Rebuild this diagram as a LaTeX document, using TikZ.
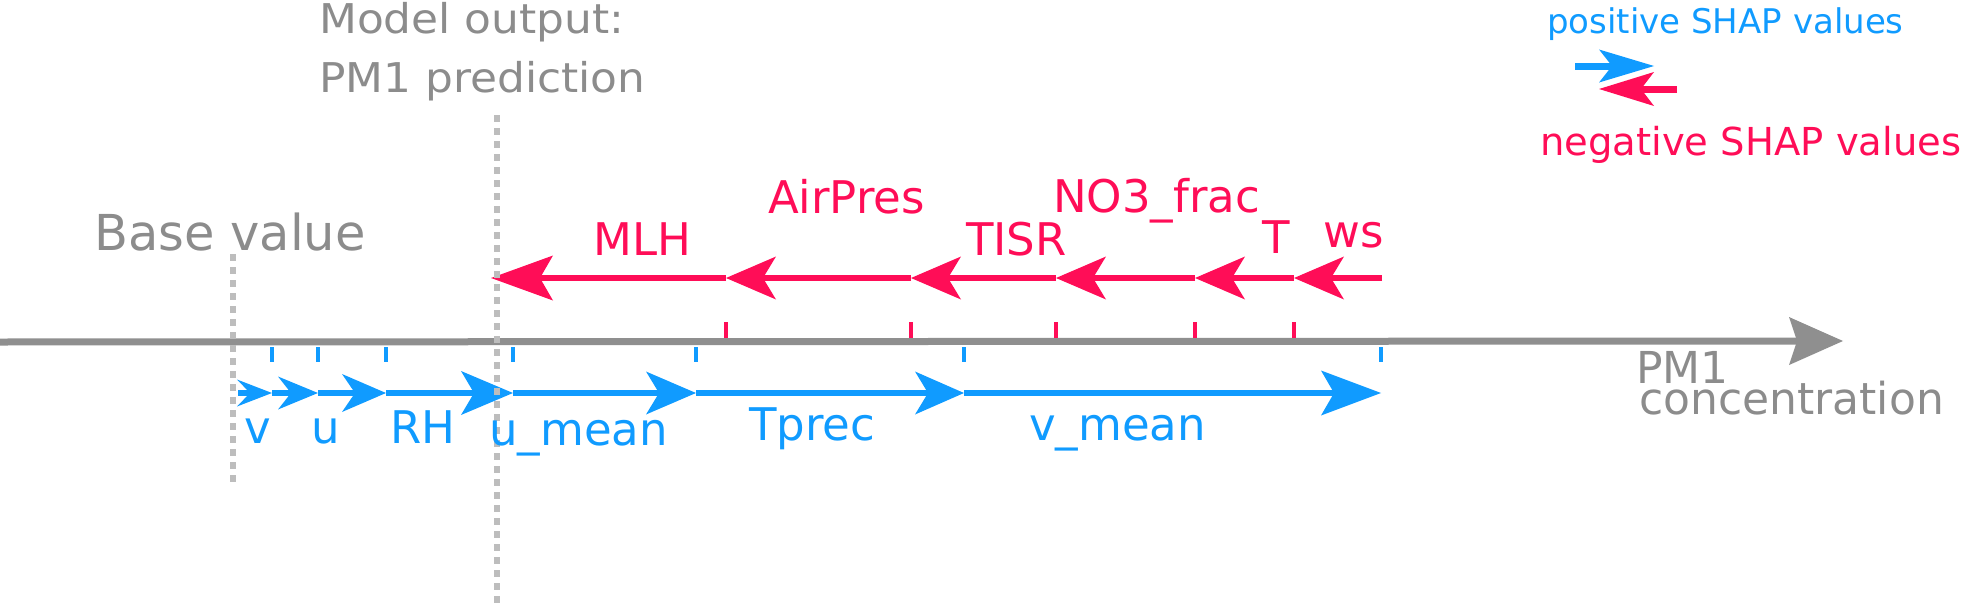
\documentclass[tikz,border=0pt]{standalone}
\usepackage{fontspec}
\setmainfont{DejaVu Sans}
\newfontfamily\widefont[FakeStretch=1.07]{DejaVu Sans}
\usetikzlibrary{arrows.meta}

\definecolor{shapblue}{RGB}{16,155,255}
\definecolor{shapred}{RGB}{255,13,87}
\definecolor{axisgray}{RGB}{143,143,143}
\definecolor{textgray}{RGB}{140,140,140}
\definecolor{dotgray}{RGB}{189,189,189}

\tikzset{
    lab/.style={inner sep=0pt, anchor=base west, font=\fontsize{45}{45}\selectfont},
    poslab/.style={lab, text=shapblue},
    neglab/.style={lab, text=shapred},
    greylab/.style={lab, text=textgray},
    posline/.style={draw=shapblue, line width=6pt},
    negline/.style={draw=shapred, line width=6.5pt},
    tickmark/.style={line width=4pt},
    dotline/.style={draw=dotgray, line width=6.5pt, dash pattern=on 6.5pt off 6.5pt},
}

\begin{document}
\begin{tikzpicture}[x=1pt, y=-1pt]
        \useasboundingbox (0,0) rectangle (1973,605);

        % axis
        \coordinate (axstart) at (0,342);
        \coordinate (axend) at (1843,341);
        \draw[draw=axisgray, line width=7pt, -{Stealth[length=54pt, width=48pt, inset=8pt, line width=0pt]}] (axstart) -- (axend);

        \foreach \x in {272,318,386,513,696,964,1381}
            \draw[shapblue, tickmark] (\x,347) -- (\x,362);
        \foreach \x in {726,911,1056,1195,1294}
            \draw[shapred, tickmark] (\x,322) -- (\x,338);

        % positive contributions
        \foreach \n/\x in {0/238,1/272,2/318,3/386,4/513,5/696,6/964,7/1381}
            \coordinate (p\n) at (\x,393);
        \foreach \a/\b/\len/\wid in {0/1/35/27, 1/2/40/33, 2/3/44/38, 3/4/52/44, 4/5/50/43, 5/6/49/43, 6/7/60/45}
            \draw[posline, -{Stealth[length=\len pt, width=\wid pt, inset=13pt, line width=0pt]}] (p\a) -- (p\b);

        % negative contributions
        \foreach \n/\x in {0/1382,1/1294,2/1195,3/1056,4/911,5/726,6/491}
            \coordinate (n\n) at (\x,278);
        \foreach \a/\b/\len/\wid in {0/1/50/43, 1/2/50/43, 2/3/50/43, 3/4/50/43, 4/5/50/43, 5/6/62/45}
            \draw[negline, -{Stealth[length=\len pt, width=\wid pt, inset=13pt, line width=0pt]}] (n\a) -- (n\b);

        % base value and model output
        \coordinate (basetop) at (233,254);
        \coordinate (basebot) at (233,486);
        \coordinate (outtop) at (497,115);
        \coordinate (outbot) at (497,605);
        \draw[dotline] (basetop) -- (basebot);
        \draw[dotline] (outtop) -- (outbot);

        \node[greylab, font=\fontsize{49.5}{49.5}\selectfont] (base) at (94,250) {Base value};
        \node[greylab, font=\widefont\fontsize{41}{41}\selectfont] (output) at (319,33) {Model output:};
        \node[greylab, font=\widefont\fontsize{41}{41}\selectfont] (prediction) at (319,92) {PM1 prediction};
        \node[greylab, font=\fontsize{44}{44}\selectfont] (pm) at (1636,383) {PM1};
        \node[greylab, font=\fontsize{44}{44}\selectfont] (conc) at (1639,414) {concentration};

        % feature names
        \node[poslab] (v) at (244,443) {v};
        \node[poslab] (u) at (311,443) {u};
        \node[poslab] (rh) at (390,443) {RH};
        \node[poslab] (umean) at (489,445) {u\_mean};
        \node[poslab] (tprec) at (749,440) {Tprec};
        \node[poslab] (vmean) at (1029,440) {v\_mean};

        \node[neglab] (mlh) at (593,255) {MLH};
        \node[neglab] (airpres) at (768,213) {AirPres};
        \node[neglab] (tisr) at (966,255) {TISR};
        \node[neglab] (no3) at (1053,212) {NO3\_frac};
        \node[neglab] (t) at (1262,253) {T};
        \node[neglab] (ws) at (1323,247) {ws};

        % legend
        \coordinate (pl0) at (1575,66);
        \coordinate (pl1) at (1654,66);
        \coordinate (nl0) at (1677,89);
        \coordinate (nl1) at (1599,89);
        \draw[posline, line width=7pt, -{Stealth[length=55pt, width=33pt, inset=13pt, line width=0pt]}] (pl0) -- (pl1);
        \draw[negline, line width=7pt, -{Stealth[length=55pt, width=34pt, inset=13pt, line width=0pt]}] (nl0) -- (nl1);
        \node[poslab, font=\fontsize{34}{34}\selectfont] (poslegend) at (1547,33) {positive SHAP values};
        \node[neglab, font=\fontsize{38.5}{38.5}\selectfont] (neglegend) at (1540,155) {negative SHAP values};
\end{tikzpicture}
\end{document}
